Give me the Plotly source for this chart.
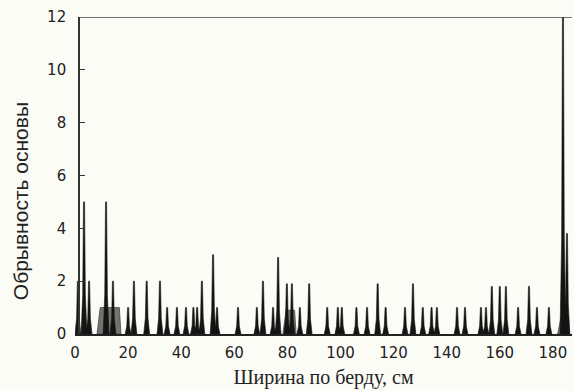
import plotly.graph_objects as go

# Spike positions (cm along the reed width) and breakage values
spike_x = [1.1, 3.4, 5.3, 11.7, 14.3, 20.0, 22.2, 27.0, 32.0, 34.7, 38.4, 41.8,
           44.6, 46.0, 47.8, 52.0, 53.5, 61.4, 68.5, 70.8, 74.6, 76.5, 79.8,
           81.7, 84.7, 88.2, 95.0, 99.0, 100.5, 106.0, 110.0, 114.0, 117.0,
           124.3, 127.3, 131.0, 134.3, 136.3, 143.9, 146.9, 152.9, 154.8,
           157.0, 160.0, 162.3, 166.9, 171.0, 174.0, 178.5, 183.8, 185.3]
spike_y = [2, 5, 2, 5, 2, 1, 2, 2, 2, 1, 1, 1,
           1, 1, 2, 3, 1, 1, 1, 2, 1, 2.9, 1.9,
           1.9, 1, 1.9, 1, 1, 1, 1, 1, 1.9, 1,
           1, 1.9, 1, 1, 1, 1, 1, 1, 1,
           1.8, 1.8, 1.8, 1, 1.8, 1, 1, 12, 3.8]

# Grey plateau regions under clusters: start, end, level
hump_start = [8.3, 78.3, 181.8]
hump_end = [17.3, 83.3, 186.2]
hump_level = [1.0, 0.9, 0.6]

x_ticks = [0, 20, 40, 60, 80, 100, 120, 140, 160, 180]
y_ticks = [0, 2, 4, 6, 8, 10, 12]

x_title = "Ширина по берду, см"
y_title = "Обрывность основы"

W = 1.1   # half base width of a spike (cm)
T = 0.2   # half top width

sx, sy = [], []
for x, h in zip(spike_x, spike_y):
    sx += [x - W, x - 0.45 * W, x - T, x + T, x + 0.45 * W, x + W, x - W, None]
    sy += [0, 0.3 * h, h, h, 0.3 * h, 0, 0, None]

hx, hy = [], []
for a, b, lv in zip(hump_start, hump_end, hump_level):
    hx += [a, a + 1.2, b - 0.6, b, a, None]
    hy += [0, lv, lv, 0, 0, None]

fig = go.Figure()
fig.add_trace(go.Scatter(x=hx, y=hy, mode="lines", fill="toself",
                         fillcolor="#74746f", line=dict(color="#444", width=0.8),
                         hoverinfo="skip", showlegend=False))
fig.add_trace(go.Scatter(x=sx, y=sy, mode="lines", fill="toself",
                         fillcolor="#141414", line=dict(color="#141414", width=0.6),
                         hoverinfo="skip", showlegend=False))

ypos = 4 / 497
fig.add_shape(type="line", xref="paper", yref="y", x0=ypos, x1=1, y0=12, y1=12,
              line=dict(color="#444", width=1.6))

# y title placed as rotated annotation (centred a little below plot middle, as in the original)
fig.add_annotation(text=y_title, textangle=-90, xref="paper", yref="paper",
                   x=-0.108, y=0.42, xanchor="center", yanchor="middle",
                   showarrow=False,
                   font=dict(family="Liberation Sans", size=21, color="#222"))

fig.update_layout(
    width=574, height=391,
    margin=dict(l=75, r=2, t=17, b=57, autoexpand=False),
    paper_bgcolor="#fcfcf6", plot_bgcolor="#fcfcf6",
    font=dict(family="DejaVu Sans", color="#222"),
    xaxis=dict(range=[0, 187.2], tickvals=x_ticks, ticktext=[str(v) for v in x_ticks],
               automargin=False, ticklabelstandoff=4,
               showgrid=False, zeroline=False, showline=True, linecolor="#222",
               linewidth=2, ticks="", tickfont=dict(size=15, color="#222"),
               title=dict(text=x_title, standoff=9,
                          font=dict(family="Liberation Serif", size=20, color="#222"))),
    yaxis=dict(range=[0, 12], tickvals=y_ticks, ticktext=[str(v) for v in y_ticks],
               anchor="free", position=ypos, automargin=False, ticklabelstandoff=9,
               showgrid=False, zeroline=False, showline=True, linecolor="#333",
               linewidth=1.6, ticks="inside", ticklen=5, tickcolor="#333",
               tickfont=dict(size=15, color="#222")),
)

fig.write_html("out.html", config={"displayModeBar": False},
               post_script="document.body.style.margin='0';document.body.style.padding='0';")
